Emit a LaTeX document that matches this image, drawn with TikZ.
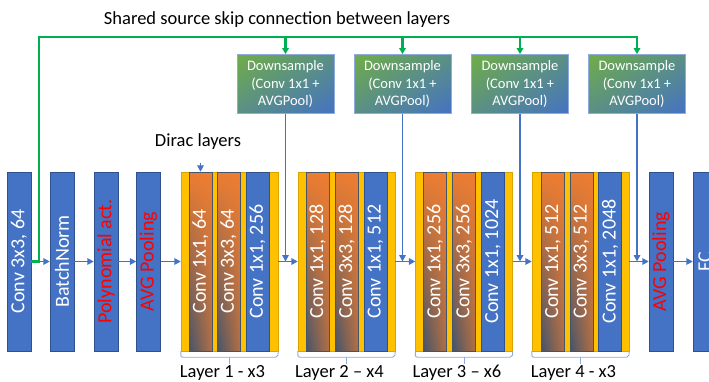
\documentclass[tikz,border=0pt]{standalone}
\usepackage{fontspec}
\setmainfont{Carlito}
\usetikzlibrary{arrows.meta,shadings}

\definecolor{convblue}{HTML}{4472C4}
\definecolor{convedge}{HTML}{2F528F}
\definecolor{diracorange}{HTML}{ED7D31}
\definecolor{diracslate}{HTML}{44546A}
\definecolor{layeryellow}{HTML}{FFC000}
\definecolor{skipgreen}{HTML}{00B050}
\definecolor{downgreen}{HTML}{70AD47}
\definecolor{bracketblue}{HTML}{8FAADC}
\definecolor{actred}{HTML}{FF0000}

\tikzset{
    block/.style={draw=convedge, line width=0.4pt, fill=convblue, inner sep=0pt,
        minimum width=24pt, minimum height=179pt, text=white,
        font=\fontsize{20}{24}\selectfont},
    redblock/.style={block, text=actred},
    innerblock/.style={block, minimum width=23pt},
    diracblock/.style={innerblock, draw=diracslate,
        upper left=diracorange, upper right=diracorange,
        lower left=diracslate, lower right=diracorange!65!diracslate},
    layergroup/.style={draw=layeryellow!85!black, line width=0.4pt, fill=layeryellow,
        minimum width=97pt, minimum height=179pt, inner sep=0pt},
    downbox/.style={draw=convblue!60!white, line width=0.8pt,
        upper left=downgreen, lower right=convblue,
        upper right=downgreen!50!convblue, lower left=downgreen!50!convblue,
        minimum width=97pt, minimum height=59pt, inner sep=0pt, align=center,
        text=white, font=\fontsize{14.5}{17.5}\selectfont},
    flow/.style={draw=convblue, line width=1.8pt, -{Triangle[length=6.5pt,width=6.5pt]}},
    skip/.style={draw=skipgreen, line width=2.5pt, -{Triangle[length=6pt,width=6.5pt]}},
    bracket/.style={draw=bracketblue, line width=0.9pt, rounded corners=2pt},
    caption/.style={font=\fontsize{18.5}{22}\selectfont, inner sep=0pt}
}

\begin{document}
\begin{tikzpicture}[x=1pt,y=-1pt]
            \useasboundingbox (0,0) rectangle (709,381);

            %stem
            \node[block] (conv) at (19,261.5) {\rotatebox{90}{Conv 3x3, 64}};

            \node[block] (bn) at (62,261.5) {\rotatebox{90}{BatchNorm}};

            \node[redblock] (poly) at (106,261.5) {\rotatebox{90}{Polynomial act.}};

            \node[redblock] (pool) at (148.5,261.5) {\rotatebox{90}{AVG Pooling}};

            %layer 1
            \node[layergroup] (lay1) at (229.5,261.5) {};

            \node[diracblock] (l1a) at (200.5,261.5) {\rotatebox{90}{Conv 1x1, 64}};

            \node[diracblock] (l1b) at (228.5,261.5) {\rotatebox{90}{Conv 3x3, 64}};

            \node[innerblock] (l1c) at (257.5,261.5) {\rotatebox{90}{Conv 1x1, 256}};

            %layer 2
            \node[layergroup] (lay2) at (346.5,261.5) {};

            \node[diracblock] (l2a) at (317.5,261.5) {\rotatebox{90}{Conv 1x1, 128}};

            \node[diracblock] (l2b) at (346.5,261.5) {\rotatebox{90}{Conv 3x3, 128}};

            \node[innerblock] (l2c) at (375.5,261.5) {\rotatebox{90}{Conv 1x1, 512}};

            %layer 3
            \node[layergroup] (lay3) at (464,261.5) {};

            \node[diracblock] (l3a) at (435,261.5) {\rotatebox{90}{Conv 1x1, 256}};

            \node[diracblock] (l3b) at (464,261.5) {\rotatebox{90}{Conv 3x3, 256}};

            \node[innerblock] (l3c) at (493,261.5) {\rotatebox{90}{Conv 1x1, 1024}};

            %layer 4
            \node[layergroup] (lay4) at (580.5,261.5) {};

            \node[diracblock] (l4a) at (553,261.5) {\rotatebox{90}{Conv 1x1, 512}};

            \node[diracblock] (l4b) at (581.5,261.5) {\rotatebox{90}{Conv 3x3, 512}};

            \node[innerblock] (l4c) at (610,261.5) {\rotatebox{90}{Conv 1x1, 2048}};

            %head
            \node[redblock] (pool2) at (661,261.5) {\rotatebox{90}{AVG Pooling}};

            \node[block] (fc) at (705,261.5) {\rotatebox{90}{FC}};

            %downsample boxes
            \node[downbox] (ds1) at (285.5,84) {Downsample\\(Conv 1x1 +\\AVGPool)};

            \node[downbox] (ds2) at (402.5,84) {Downsample\\(Conv 1x1 +\\AVGPool)};

            \node[downbox] (ds3) at (520,84) {Downsample\\(Conv 1x1 +\\AVGPool)};

            \node[downbox] (ds4) at (637,84) {Downsample\\(Conv 1x1 +\\AVGPool)};

            %skip connection
            \node[caption] (title) at (277,20) {Shared source skip connection between layers};

            \coordinate (split) at (39,261.5);

            \coordinate (rail) at (39,37);

            \draw[skip] (conv) -- (split) -- (rail) -- (ds4 |- rail) -- (ds4);

            \draw[skip] (ds1 |- rail) -- (ds1);

            \draw[skip] (ds2 |- rail) -- (ds2);

            \draw[skip] (ds3 |- rail) -- (ds3);

            %main flow
            \draw[flow] (split) -- (bn);

            \draw[flow] (bn) -- (poly);

            \draw[flow] (poly) -- (pool);

            \draw[flow] (pool) -- (lay1);

            \draw[flow] (lay1) -- (lay2);

            \draw[flow] (lay2) -- (lay3);

            \draw[flow] (lay3) -- (lay4);

            \draw[flow] (lay4) -- (pool2);

            \draw[flow] (pool2) -- (fc);

            \draw[flow] (ds1) -- (ds1 |- lay1);

            \draw[flow] (ds2) -- (ds2 |- lay2);

            \draw[flow] (ds3) -- (ds3 |- lay3);

            \draw[flow] (ds4) -- (ds4 |- lay4);

            %dirac label
            \node[caption] (diractext) at (198,142) {Dirac layers};

            \coordinate (diractip) at (200.5,163);

            \draw[flow] (diractip) -- (l1a);

            %brackets
            \draw[bracket] (lay1.south west) -- ++(0,6) -- ++(97,0) -- (lay1.south east);
            \draw[bracket] (lay1.south) ++(0,6) -- ++(0,6.5);

            \draw[bracket] (lay2.south west) -- ++(0,6) -- ++(97,0) -- (lay2.south east);
            \draw[bracket] (lay2.south) ++(0,6) -- ++(0,6.5);

            \draw[bracket] (lay3.south west) -- ++(0,6) -- ++(97,0) -- (lay3.south east);
            \draw[bracket] (lay3.south) ++(0,6) -- ++(0,6.5);

            \draw[bracket] (lay4.south west) -- ++(0,6) -- ++(97,0) -- (lay4.south east);
            \draw[bracket] (lay4.south) ++(0,6) -- ++(0,6.5);

            \node[caption] (cap1) at (222.5,373) {Layer 1 - x3};

            \node[caption] (cap2) at (339.5,373) {Layer 2 -- x4};

            \node[caption] (cap3) at (457,373) {Layer 3 -- x6};

            \node[caption] (cap4) at (573.5,373) {Layer 4 - x3};
\end{tikzpicture}
\end{document}
